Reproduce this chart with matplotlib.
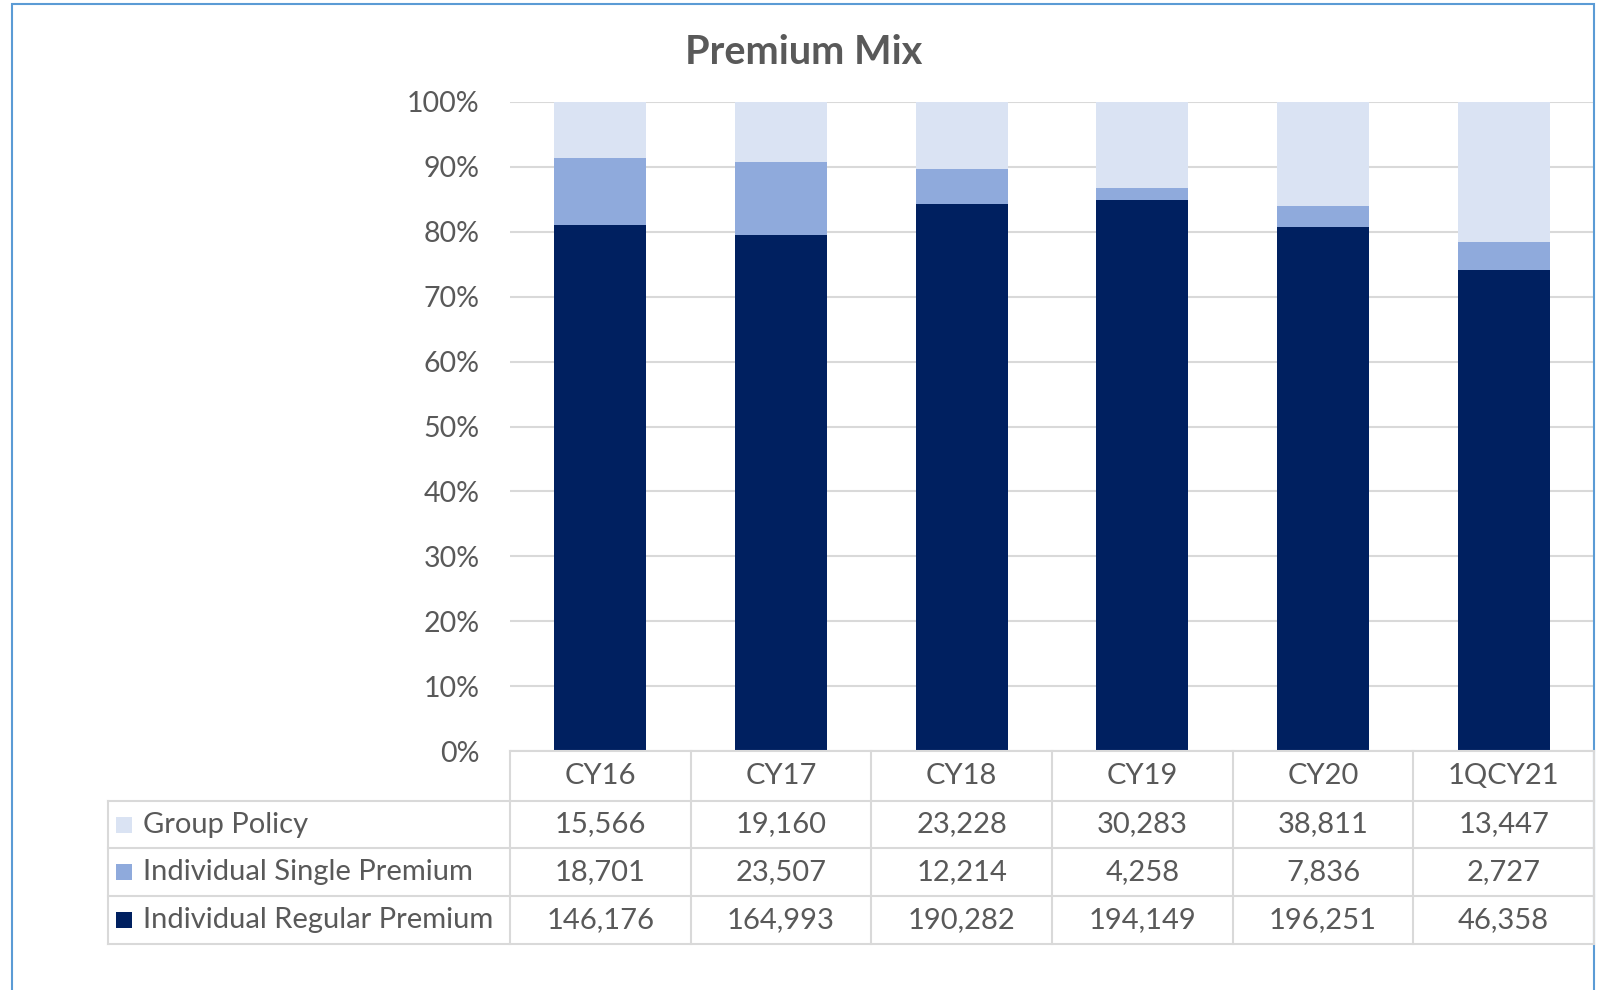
import numpy as np
import matplotlib.pyplot as plt
from matplotlib.patches import Rectangle
from matplotlib.lines import Line2D
from matplotlib.transforms import blended_transform_factory

plt.rcParams['font.family'] = ['Lato', 'DejaVu Sans']

# data
categories = ['CY16', 'CY17', 'CY18', 'CY19', 'CY20', '1QCY21']
group_policy = [15566, 19160, 23228, 30283, 38811, 13447]
single_premium = [18701, 23507, 12214, 4258, 7836, 2727]
regular_premium = [146176, 164993, 190282, 194149, 196251, 46358]
series_names = ['Group Policy', 'Individual Single Premium', 'Individual Regular Premium']
colors = ['#DAE3F3', '#8FAADC', '#002060']
text_color = '#595959'
line_color = '#D9D9D9'

W, H = 1600, 990
def fx(px):
    return px / W
def fy(py):
    return 1 - py / H

reg = np.array(regular_premium, dtype=float)
sng = np.array(single_premium, dtype=float)
grp = np.array(group_policy, dtype=float)
total = reg + sng + grp

fig = plt.figure(figsize=(16, 9.9), dpi=100)
ax = fig.add_axes([fx(510), fy(751), fx(1594) - fx(510), fy(102) - fy(751)])

x = np.arange(len(categories))
bw = 0.51
ax.bar(x, reg / total, bw, color=colors[2], zorder=2)
ax.bar(x, sng / total, bw, bottom=reg / total, color=colors[1], zorder=2)
ax.bar(x, grp / total, bw, bottom=(reg + sng) / total, color=colors[0], zorder=2)

ax.set_xlim(-0.5, len(categories) - 0.5)
ax.set_ylim(0, 1)
ax.set_yticks(np.arange(0, 1.01, 0.1))
ax.set_yticklabels([f'{int(round(v * 100))}%' for v in np.arange(0, 1.01, 0.1)])
ax.set_xticks([])
ax.yaxis.grid(True, color=line_color, lw=1.5)
ax.set_axisbelow(True)
for s in ax.spines.values():
    s.set_visible(False)
ax.tick_params(axis='y', length=0, pad=22, labelsize=20.5, labelcolor=text_color)

fig.text(fx(804), fy(53), 'Premium Mix', ha='center', va='center',
         fontsize=28.5, fontweight='bold', color=text_color)

# data table under the bars
trans = blended_transform_factory(ax.transData, fig.transFigure)
row_edges = [751, 801, 848, 896, 944]
left_px = 108
fs = 21

# horizontal lines
fig.add_artist(Line2D([-0.5, len(categories) - 0.5], [fy(751), fy(751)],
                      transform=trans, color=line_color, lw=1.5))
for r in row_edges[1:]:
    fig.add_artist(Line2D([fx(left_px), fx(1594)], [fy(r), fy(r)],
                          transform=fig.transFigure, color=line_color, lw=1.5))
# vertical lines
for b in np.arange(-0.5, len(categories), 1.0):
    fig.add_artist(Line2D([b, b], [fy(751), fy(944)],
                          transform=trans, color=line_color, lw=1.5))
fig.add_artist(Line2D([fx(left_px), fx(left_px)], [fy(801), fy(944)],
                      transform=fig.transFigure, color=line_color, lw=1.5))

# header
for i, c in enumerate(categories):
    fig.text(i, fy((751 + 801) / 2), c, transform=trans, ha='center', va='center',
             fontsize=fs, color=text_color)

rows = [group_policy, single_premium, regular_premium]
for k, (name, vals) in enumerate(zip(series_names, rows)):
    yc = (row_edges[k + 1] + row_edges[k + 2]) / 2
    fig.add_artist(Rectangle((fx(116), fy(yc + 8)), fx(16), 16 / H,
                             transform=fig.transFigure, color=colors[k], lw=0))
    fig.text(fx(143), fy(yc), name, ha='left', va='center',
             fontsize=fs, color=text_color)
    for i, v in enumerate(vals):
        fig.text(i, fy(yc), f'{v:,}', transform=trans, ha='center', va='center',
                 fontsize=fs, color=text_color)

# chart border
fig.add_artist(Rectangle((fx(12), fy(1010)), fx(1594) - fx(12), fy(4) - fy(1010),
                         transform=fig.transFigure, fill=False,
                         edgecolor='#5B9BD5', lw=1.5))

fig.savefig('out.png', dpi=100)
